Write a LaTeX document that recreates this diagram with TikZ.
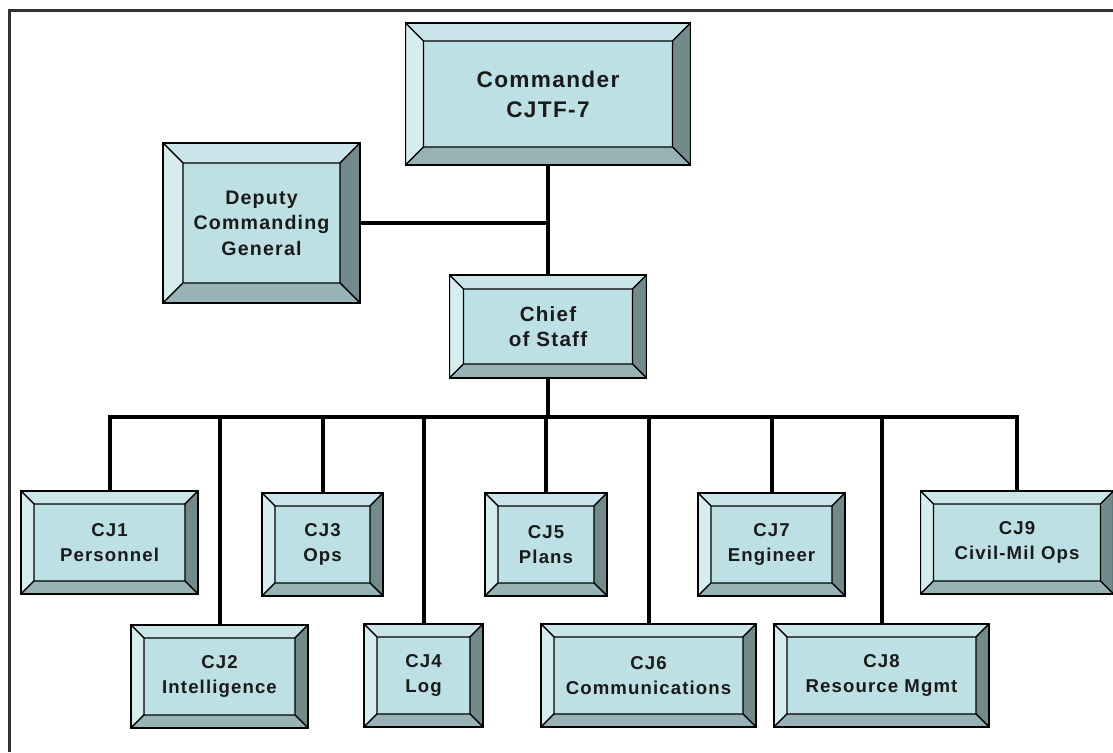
\documentclass[tikz,border=0pt]{standalone}
\usepackage{fontspec}
\newfontfamily\orgfont{Liberation Sans}[LetterSpace=6, BoldFont={Liberation Sans Bold}]
\usepackage{tikz}

\definecolor{boxface}{HTML}{BDE0E4}
\definecolor{bevtop}{HTML}{C9E5E9}
\definecolor{bevleft}{HTML}{D6EDEF}
\definecolor{bevright}{HTML}{728A8A}
\definecolor{bevbottom}{HTML}{97B3B5}
\definecolor{framecol}{HTML}{333333}
\definecolor{textcol}{HTML}{1A1A1A}

% bevel faces of a box, #1 = depth of the bevel
\newcommand\bevelfaces[1]{%
  \coordinate (onw) at (path picture bounding box.north west);
  \coordinate (one) at (path picture bounding box.north east);
  \coordinate (osw) at (path picture bounding box.south west);
  \coordinate (ose) at (path picture bounding box.south east);
  \coordinate (inw) at ([xshift=#1,yshift=-#1]onw);
  \coordinate (ine) at ([xshift=-#1,yshift=-#1]one);
  \coordinate (isw) at ([xshift=#1,yshift=#1]osw);
  \coordinate (ise) at ([xshift=-#1,yshift=#1]ose);
  \filldraw[fill=bevtop] (onw) -- (one) -- (ine) -- (inw) -- cycle;
  \filldraw[fill=bevleft] (onw) -- (inw) -- (isw) -- (osw) -- cycle;
  \filldraw[fill=bevright] (one) -- (ose) -- (ise) -- (ine) -- cycle;
  \filldraw[fill=bevbottom] (osw) -- (isw) -- (ise) -- (ose) -- cycle;
}

\tikzset{
  orgbox/.style={draw=black, line width=0.6pt, fill=boxface, inner sep=0pt,
    align=center, text=textcol, path picture={\bevelfaces{#1}},
    font=\orgfont\bfseries\fontsize{9.3}{12.5}\selectfont},
  orgbox/.default=6.5pt,
  link/.style={line width=2pt, line join=miter}
}

\begin{document}
\begin{tikzpicture}[x=0.5pt, y=-0.5pt]
    \useasboundingbox (0,0) rectangle (1113,752);

    % Frame
    \draw[framecol, line width=1.5pt] (9,752) -- (9,10) -- (1113,10);

    % Command group
    \node[orgbox=9pt, minimum width=142.5pt, minimum height=71pt,
      font=\orgfont\bfseries\fontsize{11.3}{15}\selectfont] at (548, 94) (cmd) {Commander\\CJTF-7};
    \node[orgbox=10pt, minimum width=98.5pt, minimum height=80pt,
      font=\orgfont\bfseries\fontsize{9.8}{12.7}\selectfont] at (261.5, 223) (dcg) {Deputy\\Commanding\\General};
    \node[orgbox=7pt, minimum width=98.5pt, minimum height=51.5pt,
      font=\orgfont\bfseries\fontsize{10.3}{12.5}\selectfont] at (548, 326.5) (cos) {Chief\\of Staff};

    % Staff sections, upper row
    \node[orgbox, minimum width=88.5pt, minimum height=51.5pt] at (109.5, 542.5) (cj1) {CJ1\\Personnel};
    \node[orgbox, minimum width=60.5pt, minimum height=51.5pt] at (322.5, 544.5) (cj3) {CJ3\\Ops};
    \node[orgbox, minimum width=61pt, minimum height=51.5pt] at (546, 544.5) (cj5) {CJ5\\Plans};
    \node[orgbox, minimum width=73.5pt, minimum height=51.5pt] at (771.5, 544.5) (cj7) {CJ7\\Engineer};
    \node[orgbox, minimum width=96.5pt, minimum height=51.5pt] at (1017, 542.5) (cj9) {CJ9\\Civil-Mil Ops};

    % Staff sections, lower row
    \node[orgbox, minimum width=88.5pt, minimum height=51.5pt] at (219.5, 676.5) (cj2) {CJ2\\Intelligence};
    \node[orgbox, minimum width=59.5pt, minimum height=51.5pt] at (423.5, 675.5) (cj4) {CJ4\\Log};
    \node[orgbox, minimum width=107.5pt, minimum height=51.5pt] at (648.5, 675.5) (cj6) {CJ6\\Communications};
    \node[orgbox, minimum width=107.5pt, minimum height=51.5pt] at (881.5, 675.5) (cj8) {CJ8\\Resource Mgmt};

    % Links
    \coordinate (bus) at (548, 417);
    \draw[link] (cmd.south) -- (cos.north);
    \draw[link] (dcg.east) -- (dcg.east -| cmd.south);
    \draw[link] (cos.south) -- (bus);
    \draw[link] (cj1.north) -- (cj1.north |- bus) -- (cj9.north |- bus) -- (cj9.north);
    \foreach \n in {cj2,cj3,cj4,cj5,cj6,cj7,cj8}
        \draw[link] (\n.north) -- (\n.north |- bus);

\end{tikzpicture}
\end{document}
